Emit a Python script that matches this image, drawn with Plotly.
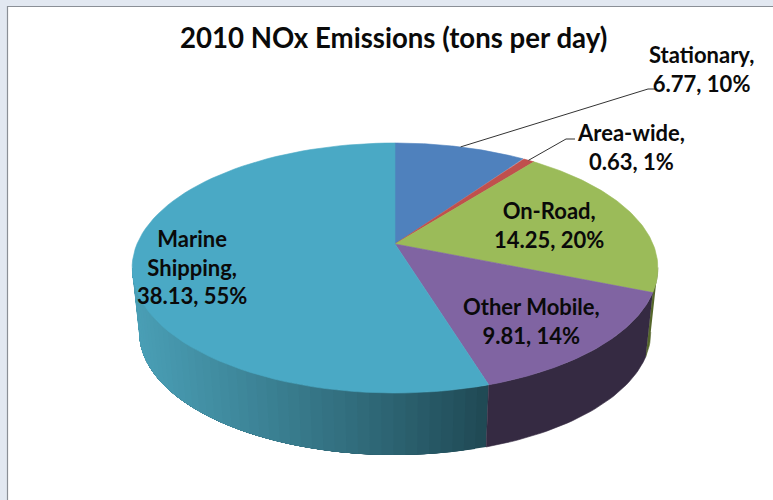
import numpy as np
import plotly.graph_objects as go

categories = ["Stationary", "Area-wide", "On-Road", "Other Mobile", "Marine Shipping"]
values = [6.77, 0.63, 14.25, 9.81, 38.13]
percents = [10, 1, 20, 14, 55]
label_lines = [["Stationary,", "6.77, 10%"], ["Area-wide,", "0.63, 1%"], ["On-Road,", "14.25, 20%"],
               ["Other Mobile,", "9.81, 14%"], ["Marine", "Shipping,", "38.13, 55%"]]
top_colors = ["#4F81BD", "#C0504D", "#9BBB59", "#8064A2", "#4AA9C5"]
title_text = "2010 NOx Emissions (tons per day)"

# perspective pie geometry, in pixels of the 773x500 page
CX, K = 395.0, 0.192
TOP = dict(b=258.0, a=120.4, yc=244.0)
BOT = dict(b=251.0, a=118.0, yc=309.0)


def proj(theta, g):
    u, v = np.sin(theta), np.cos(theta)
    d = 1 + K * v
    return CX + g["b"] * u / d, g["yc"] - g["a"] * v / d


def hex_mix(c1, c2, t):
    a = [int(c1[i:i + 2], 16) for i in (1, 3, 5)]
    b = [int(c2[i:i + 2], 16) for i in (1, 3, 5)]
    return "rgb(%d,%d,%d)" % tuple(round(x + (y - x) * t) for x, y in zip(a, b))


edges = 2 * np.pi * np.concatenate([[0], np.cumsum(values)]) / np.sum(values)
fig = go.Figure()


def poly(xs, ys, color, width=0.6):
    fig.add_trace(go.Scatter(x=list(xs), y=list(ys), mode="lines", fill="toself", fillcolor=color,
                             line=dict(color=color, width=width), hoverinfo="skip", showlegend=False))


# side wall
SIDE_START = np.arctan2(1, -K)          # right-hand silhouette
SIDE_END = 2 * np.pi - SIDE_START       # left-hand silhouette
# teal gradient: every band runs on to the far end, the next one paints over it, so no seams show
band_edges = np.linspace(edges[4], SIDE_END, 45)
for i in range(len(band_edges) - 1):
    t = np.linspace(band_edges[i], SIDE_END, 30)
    tx, ty = proj(t, TOP)
    bx, by = proj(t, BOT)
    mx = proj((band_edges[i] + band_edges[i + 1]) / 2, TOP)[0]
    xpos = (487 - mx) / (487 - 132)
    poly(np.r_[tx, bx[::-1]], np.r_[ty, by[::-1]], hex_mix("#1F4853", "#4A9FB6", min(1, xpos ** 0.9)), width=0)
# olive sliver of On-Road
t = np.linspace(SIDE_START, edges[3], 8)
tx, ty = proj(t, TOP)
bx, by = proj(t, BOT)
poly(np.r_[tx, bx[::-1]], np.r_[ty, by[::-1]], "#55662B")
# purple
t = np.linspace(edges[3], edges[4], 40)
tx, ty = proj(t, TOP)
bx, by = proj(t, BOT)
poly(np.r_[tx, bx[::-1]], np.r_[ty, by[::-1]], "#352A42")

# top face
for i, c in enumerate(top_colors):
    t = np.linspace(edges[i], edges[i + 1], 80)
    x, y = proj(t, TOP)
    poly(np.r_[CX, x, CX], np.r_[TOP["yc"], y, TOP["yc"]], c)

# leader lines start at the mid-angle of their slices
mids = (edges[:-1] + edges[1:]) / 2
s0 = proj(mids[0], TOP)
a0 = proj(mids[1], TOP)
shapes = [
    dict(type="rect", xref="paper", yref="paper", x0=0, x1=1, y0=0, y1=1, fillcolor="#E2E8F1",
         line_width=0, layer="below"),
    dict(type="rect", x0=7.5, x1=800, y0=6.5, y1=520, fillcolor="white", line=dict(color="#8A8F96", width=1.2),
         layer="below"),
    dict(type="path", path=f"M{s0[0]:.1f},{s0[1]:.1f} L648,89 L656,89", line=dict(color="#333333", width=1)),
    dict(type="path", path=f"M{a0[0]:.1f},{a0[1]:.1f} L566,139 L575,139", line=dict(color="#333333", width=1)),
]

label_pos = [(701, 69), (631, 147), (549, 225), (531, 321), (192, 267)]
FONT = "Lato, 'Open Sans', sans-serif"
ann = [dict(x=393, y=37, text=f"<b>{title_text}</b>", showarrow=False, xanchor="center", yanchor="middle",
            font=dict(family=FONT, size=27.6, color="#0A0A0A"))]
for lines, (lx, ly) in zip(label_lines, label_pos):
    ann.append(dict(x=lx, y=ly, text="<b>" + "<br>".join(lines) + "</b>", showarrow=False, xanchor="center",
                    yanchor="middle", align="center", font=dict(family=FONT, size=22, color="#0A0A0A")))

fig.update_layout(
    width=773, height=500, margin=dict(l=0, r=0, t=0, b=0), showlegend=False,
    paper_bgcolor="#E2E8F1", plot_bgcolor="rgba(0,0,0,0)", shapes=shapes, annotations=ann,
    xaxis=dict(range=[0, 773], visible=False, fixedrange=True),
    yaxis=dict(range=[500, 0], visible=False, fixedrange=True),
)
fig.write_html("out.html", post_script="document.body.style.margin='0';", config=dict(displayModeBar=False))
